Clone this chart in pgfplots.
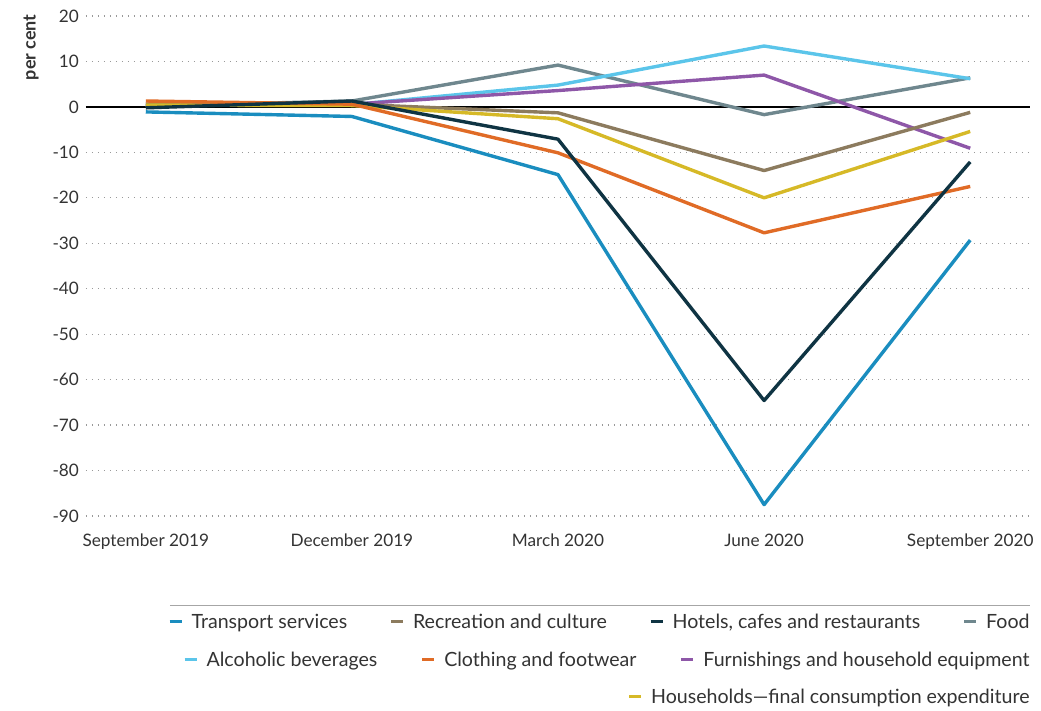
\documentclass[border=0pt]{standalone}
\usepackage{fontspec}
\setmainfont{Lato}
\usepackage{pgfplots}
\pgfplotsset{compat=1.18}
\definecolor{cTrans}{HTML}{1A8DBF}
\definecolor{cRec}{HTML}{8C7B5E}
\definecolor{cHot}{HTML}{0F3443}
\definecolor{cFood}{HTML}{6F878E}
\definecolor{cAlc}{HTML}{5BC5EA}
\definecolor{cClo}{HTML}{E06B26}
\definecolor{cFur}{HTML}{8E57A8}
\definecolor{cHou}{HTML}{D6B927}
\definecolor{txt}{HTML}{333333}
\newcommand\leg[2]{\textcolor{#1}{\rule[0.28em]{6pt}{1.5pt}}\hspace{5pt}#2}
\begin{document}
\begin{tikzpicture}
\useasboundingbox (-43pt,-97.5pt) rectangle (477.5pt,258pt);
\begin{axis}[
  at={(0pt,0pt)}, anchor=south west,
  scale only axis, width=472pt, height=250pt,
  xmin=-0.29, xmax=4.29, ymin=-90, ymax=20,
  xtick={0,1,2,3,4},
  xticklabels={September 2019, December 2019, March 2020, June 2020, September 2020},
  ytick={-90,-80,...,20},
  ymajorgrids,
  grid style={gray!80, line width=0.6pt, dash pattern=on 0.6pt off 2.4pt},
  axis line style={draw=none},
  major tick length=0pt,
  tick label style={font=\fontsize{8.6}{10}\selectfont, text=txt},
  xticklabel style={yshift=-5.5pt},
  /pgf/number format/assume math mode=true,
  clip=false,
  every axis plot/.append style={line width=1.7pt, line join=round, mark=none},
]
\addplot[black, line width=0.6pt] coordinates {(-0.29,0) (4.29,0)};
\addplot[cFood] coordinates {(0,0.2) (1,1.3) (2,9.2) (3,-1.7) (4,6.4)};
\addplot[cAlc] coordinates {(0,0.4) (1,0.5) (2,4.8) (3,13.4) (4,6.2)};
\addplot[cFur] coordinates {(0,0.4) (1,0.6) (2,3.6) (3,7.0) (4,-9.1)};
\addplot[cRec] coordinates {(0,0.6) (1,0.6) (2,-1.3) (3,-14.0) (4,-1.2)};
\addplot[cHou] coordinates {(0,0.4) (1,0.3) (2,-2.6) (3,-20.0) (4,-5.4)};
\addplot[cClo] coordinates {(0,1.3) (1,0.6) (2,-10.1) (3,-27.7) (4,-17.5)};
\addplot[cHot] coordinates {(0,-0.2) (1,1.3) (2,-7.1) (3,-64.6) (4,-12.1)};
\addplot[cTrans] coordinates {(0,-1.1) (1,-2.1) (2,-14.9) (3,-87.5) (4,-29.3)};
\end{axis}
\node[rotate=90, anchor=east, inner sep=0, font=\fontsize{9}{10}\selectfont\bfseries, text=txt] at (-27.5pt,251pt) {per cent};
\draw[gray!70, line width=0.5pt] (42pt,-45pt) -- (472pt,-45pt);
\begin{scope}[every node/.style={anchor=east, inner sep=0, font=\fontsize{9.8}{11}\selectfont, text=txt}]
\node at (472pt,-53.5pt) {\makebox[430pt][s]{\leg{cTrans}{Transport services}\hfill\leg{cRec}{Recreation and culture}\hfill\leg{cHot}{Hotels, cafes and restaurants}\hfill\leg{cFood}{Food}}};
\node at (472pt,-72.5pt) {\makebox[422.5pt][s]{\leg{cAlc}{Alcoholic beverages}\hfill\leg{cClo}{Clothing and footwear}\hfill\leg{cFur}{Furnishings and household equipment}}};
\node at (472pt,-91pt) {\leg{cHou}{Households—final consumption expenditure}};
\end{scope}
\end{tikzpicture}
\end{document}
